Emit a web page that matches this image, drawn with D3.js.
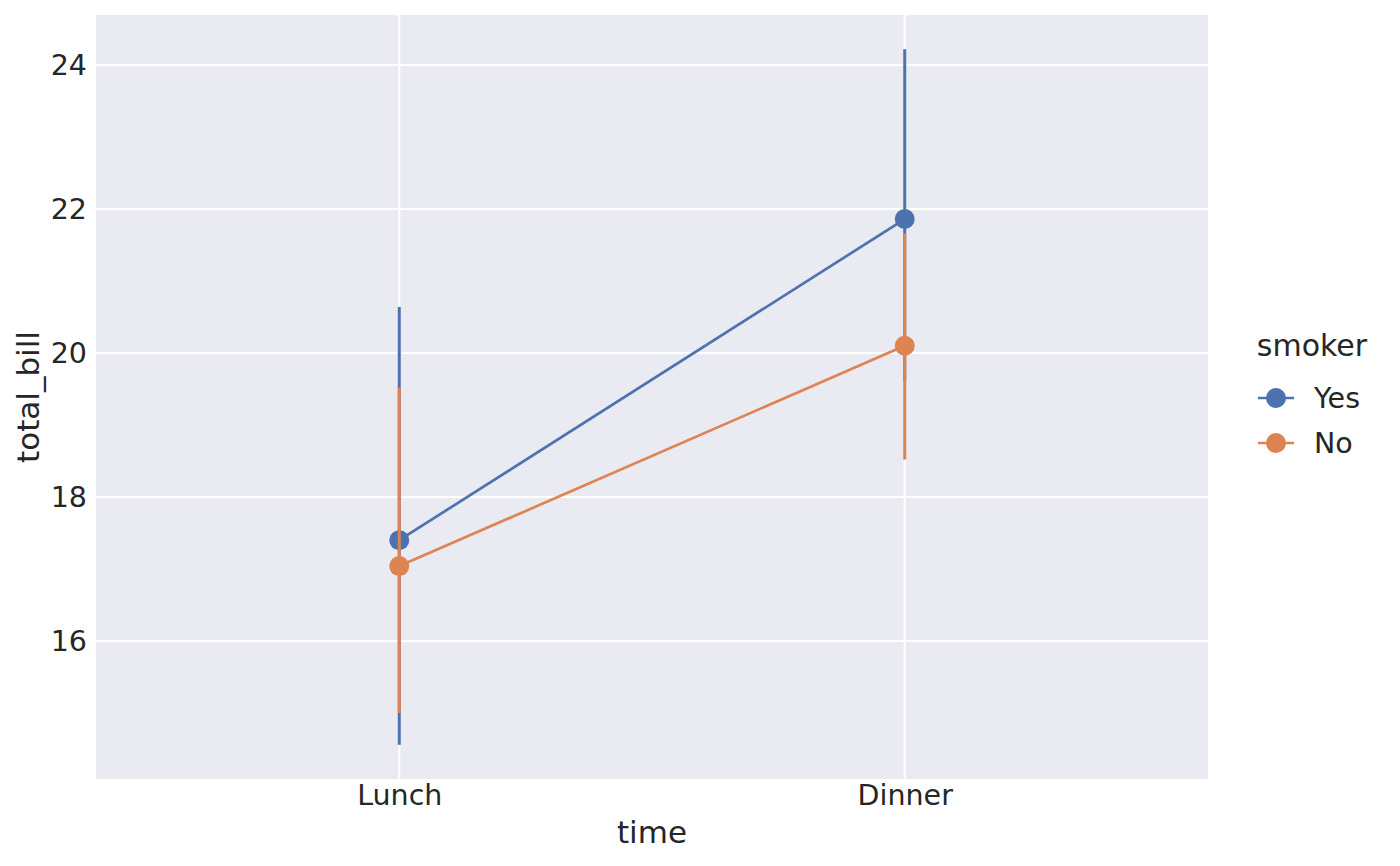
<!DOCTYPE html>
<html>
<head>
<meta charset="utf-8">
<script src="https://cdn.jsdelivr.net/npm/d3@7"></script>
<style>
  body { margin: 0; background: #fff; }
  text { font-family: "DejaVu Sans", sans-serif; fill: #262626; }
</style>
</head>
<body>
<div id="chart"></div>
<script>
// data
var times = ['Lunch', 'Dinner']
var smokers = ['Yes', 'No']
var colors = ['#4c72b0', '#dd8452']
var yesMean = [17.40, 21.86]
var yesLow = [14.56, 19.6]
var yesHigh = [20.64, 24.22]
var noMean = [17.04, 20.10]
var noLow = [15.00, 18.52]
var noHigh = [19.52, 21.66]
var yTicks = [16, 18, 20, 22, 24]

var width = 1400
var height = 866
var plotLeft = 96, plotRight = 1208, plotTop = 15, plotBottom = 779

var series = [
  { name: smokers[0], color: colors[0], mean: yesMean, lo: yesLow, hi: yesHigh },
  { name: smokers[1], color: colors[1], mean: noMean, lo: noLow, hi: noHigh }
]

var x = d3.scaleLinear().domain([-0.6, 1.6]).range([plotLeft, plotRight])
var y = d3.scaleLinear().domain([14.083, 24.694]).range([plotBottom, plotTop])

var svg = d3.select('#chart').append('svg')
  .attr('width', width)
  .attr('height', height)

svg.append('rect')
  .attr('x', plotLeft).attr('y', plotTop)
  .attr('width', plotRight - plotLeft).attr('height', plotBottom - plotTop)
  .attr('fill', '#eaeaf2')

// grid
svg.append('g').selectAll('line')
  .data(yTicks).enter().append('line')
  .attr('x1', plotLeft).attr('x2', plotRight)
  .attr('y1', function(d) { return y(d) }).attr('y2', function(d) { return y(d) })
  .attr('stroke', '#fff').attr('stroke-width', 2)

svg.append('g').selectAll('line')
  .data(times).enter().append('line')
  .attr('x1', function(d, i) { return x(i) }).attr('x2', function(d, i) { return x(i) })
  .attr('y1', plotTop).attr('y2', plotBottom)
  .attr('stroke', '#fff').attr('stroke-width', 2)

// axes
var yAxis = svg.append('g')
  .attr('transform', 'translate(' + plotLeft + ',0)')
  .call(d3.axisLeft(y).tickValues(yTicks).tickSize(0).tickPadding(9))
yAxis.select('.domain').remove()
yAxis.selectAll('text').style('font-size', '28.5px').attr('fill', '#262626')

var xAxis = svg.append('g')
  .attr('transform', 'translate(0,' + plotBottom + ')')
  .call(d3.axisBottom(x).tickValues([0, 1]).tickFormat(function(d) { return times[d] }).tickSize(0).tickPadding(6))
xAxis.select('.domain').remove()
xAxis.selectAll('text').style('font-size', '28.5px').attr('fill', '#262626')

svg.append('text')
  .attr('x', (plotLeft + plotRight) / 2).attr('y', 843)
  .attr('text-anchor', 'middle')
  .style('font-size', '31px')
  .text('time')

svg.append('text')
  .attr('transform', 'translate(39,' + (plotTop + plotBottom) / 2 + ') rotate(-90)')
  .attr('text-anchor', 'middle')
  .style('font-size', '31px')
  .text('total_bill')

// series
var line = d3.line()
  .x(function(d, i) { return x(i) })
  .y(function(d) { return y(d) })

series.forEach(function(s) {
  var g = svg.append('g')
  g.selectAll('line.err')
    .data(times).enter().append('line')
    .attr('class', 'err')
    .attr('x1', function(d, i) { return x(i) }).attr('x2', function(d, i) { return x(i) })
    .attr('y1', function(d, i) { return y(s.lo[i]) })
    .attr('y2', function(d, i) { return y(s.hi[i]) })
    .attr('stroke', s.color).attr('stroke-width', 3)
  g.append('path')
    .datum(s.mean)
    .attr('d', line)
    .attr('fill', 'none')
    .attr('stroke', s.color).attr('stroke-width', 2.7)
  g.selectAll('circle')
    .data(s.mean).enter().append('circle')
    .attr('cx', function(d, i) { return x(i) })
    .attr('cy', function(d) { return y(d) })
    .attr('r', 10)
    .attr('fill', s.color)
})

// legend
var legend = svg.append('g')
legend.append('text')
  .attr('x', 1312).attr('y', 356)
  .attr('text-anchor', 'middle')
  .style('font-size', '30px')
  .text('smoker')

series.forEach(function(s, i) {
  var ly = 398 + i * 45
  legend.append('line')
    .attr('x1', 1258).attr('x2', 1294)
    .attr('y1', ly).attr('y2', ly)
    .attr('stroke', s.color).attr('stroke-width', 2.7)
  legend.append('circle')
    .attr('cx', 1276).attr('cy', ly).attr('r', 10)
    .attr('fill', s.color)
  legend.append('text')
    .attr('x', 1314).attr('y', ly + 10)
    .style('font-size', '28.5px')
    .text(s.name)
})
</script>
</body>
</html>
